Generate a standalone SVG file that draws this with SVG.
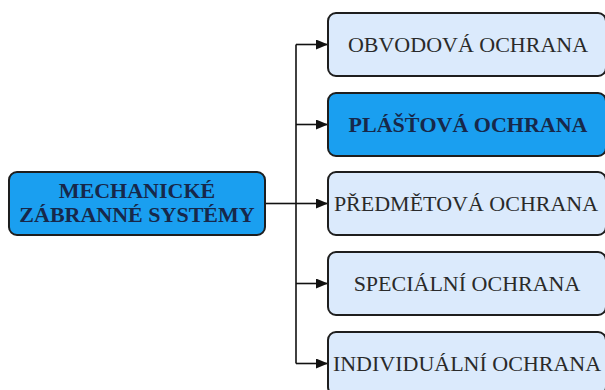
<svg xmlns="http://www.w3.org/2000/svg" width="605" height="390" viewBox="0 0 605 390">
  <defs>
    <marker id="arrow" viewBox="0 0 12 10" refX="12" refY="5" markerWidth="12" markerHeight="10" markerUnits="userSpaceOnUse" orient="auto">
      <path d="M0,0 L12,5 L0,10 Z" fill="#111"/>
    </marker>
  </defs>
  <style>
    .box { stroke: #1e1e1e; stroke-width: 2; }
    .light { fill: #dbeafc; }
    .bright { fill: #1a9ff0; }
    .label { font-family: "Liberation Serif", "Times New Roman", serif; font-size: 22px; text-anchor: middle; fill: #2a2a2a; }
    .strong { font-weight: bold; fill: #17284a; }
    .wire { fill: none; stroke: #111; stroke-width: 1.6; }
  </style>
  <rect width="605" height="390" fill="#ffffff"/>

  <!-- connectors: trunk from the root node, fan-out to each child -->
  <g id="connectors">
    <path class="wire" d="M265,203.5 H296"/>
    <path class="wire" d="M296,44.5 V363.5"/>
    <path class="wire" d="M296,44.5 H328" marker-end="url(#arrow)"/>
    <path class="wire" d="M296,124.5 H328" marker-end="url(#arrow)"/>
    <path class="wire" d="M296,203.5 H328" marker-end="url(#arrow)"/>
    <path class="wire" d="M296,283.5 H328" marker-end="url(#arrow)"/>
    <path class="wire" d="M296,363.5 H328" marker-end="url(#arrow)"/>
  </g>

  <g id="root">
    <rect class="box bright" x="9" y="172" width="256" height="63" rx="8"/>
    <text class="label strong" x="137" y="198">MECHANICKÉ</text>
    <text class="label strong" x="137" y="222">ZÁBRANNÉ SYSTÉMY</text>
  </g>

  <g id="obvodova">
    <rect class="box light" x="328" y="13" width="278" height="63" rx="8"/>
    <text class="label" x="468" y="52">OBVODOVÁ OCHRANA</text>
  </g>

  <g id="plastova">
    <rect class="box bright" x="328" y="93" width="278" height="63" rx="8"/>
    <text class="label strong" x="468" y="132">PLÁŠŤOVÁ OCHRANA</text>
  </g>

  <g id="predmetova">
    <rect class="box light" x="328" y="172" width="278" height="63" rx="8"/>
    <text class="label" x="466" y="211">PŘEDMĚTOVÁ OCHRANA</text>
  </g>

  <g id="specialni">
    <rect class="box light" x="328" y="252" width="278" height="63" rx="8"/>
    <text class="label" x="467" y="291">SPECIÁLNÍ OCHRANA</text>
  </g>

  <g id="individualni">
    <rect class="box light" x="328" y="332" width="278" height="63" rx="8"/>
    <text class="label" x="467" y="371">INDIVIDUÁLNÍ OCHRANA</text>
  </g>
</svg>
